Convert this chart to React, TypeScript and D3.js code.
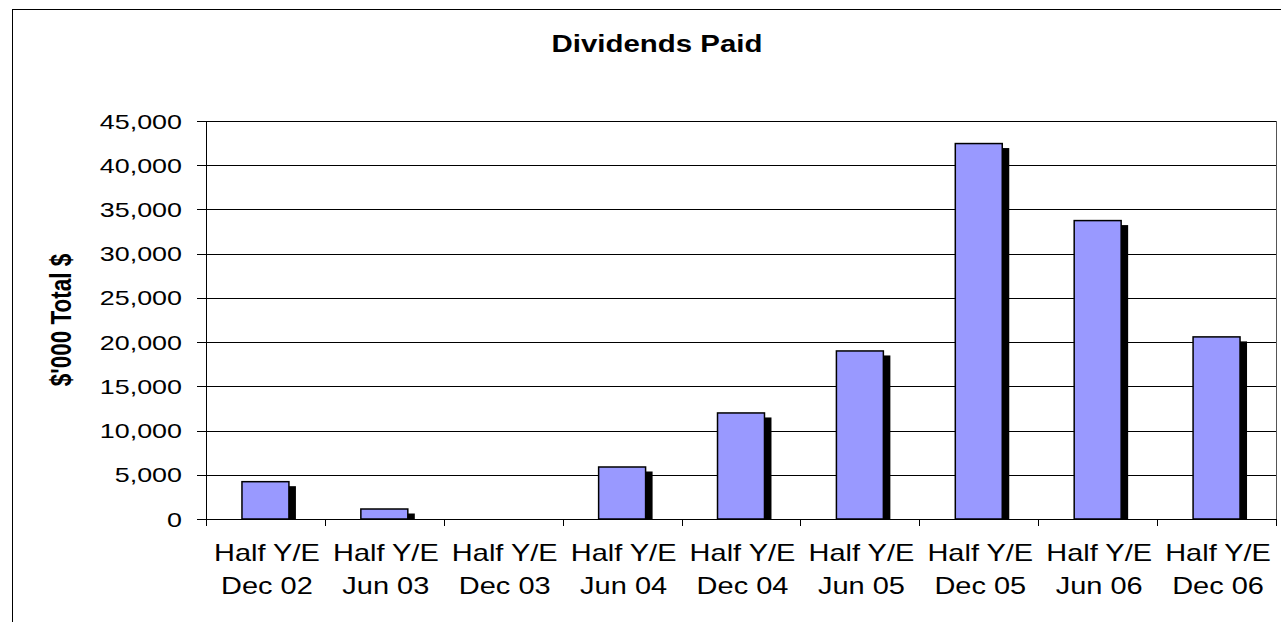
import * as d3 from 'd3'
import React from 'react'

const categories = ['Dec 02', 'Jun 03', 'Dec 03', 'Jun 04', 'Dec 04', 'Jun 05', 'Dec 05', 'Jun 06', 'Dec 06']
const dividends = [4220, 1130, 0, 5880, 11990, 19000, 42450, 33740, 20590]
const yTicks = [0, 5000, 10000, 15000, 20000, 25000, 30000, 35000, 40000, 45000]

const W = 1281
const H = 622
const plot = { left: 206, top: 121, right: 1276, bottom: 519 }
const FONT = 'Arial, "Liberation Sans", sans-serif'

// the original chart is stretched sideways, so text gets a horizontal scale
const Label = ({ x, y, sx, size, anchor = 'middle', bold = false, children }: any) => (
  <text
    transform={`translate(${x},${y}) scale(${sx},1)`}
    textAnchor={anchor}
    fontFamily={FONT}
    fontSize={size}
    fontWeight={bold ? 'bold' : 'normal'}
  >
    {children}
  </text>
)

export default function App() {
  const x = d3
    .scaleBand()
    .domain(categories)
    .range([plot.left, plot.right])
    .paddingInner(0)
  const y = d3.scaleLinear().domain([0, 45000]).range([plot.bottom, plot.top])
  const fmt = d3.format(',')
  const barW = x.bandwidth() * 0.395
  const shadowDx = 7
  const shadowDy = 4.5

  return (
    <svg width={W} height={H} style={{ position: 'absolute', left: 0, top: 0, background: '#fff' }}>
      <rect x={0} y={0} width={W} height={H} fill="#fff" />
      {/* outer chart border */}
      <rect x={12.5} y={9.5} width={W + 10} height={H + 10} fill="none" stroke="#000" strokeWidth={1} />

      <Label x={657} y={52} sx={1.28} size={23} bold>
        Dividends Paid
      </Label>

      {/* gridlines */}
      {yTicks.map(t => (
        <line key={t} x1={plot.left - 9} x2={plot.right} y1={Math.round(y(t)) + 0.5} y2={Math.round(y(t)) + 0.5} stroke="#000" strokeWidth={1} />
      ))}
      <line x1={plot.right + 0.5} x2={plot.right + 0.5} y1={plot.top} y2={plot.bottom} stroke="#555" strokeWidth={1} />

      {/* bars with shadows */}
      {dividends.map((v, i) => {
        const cx = x(categories[i])! + x.bandwidth() / 2
        const top = y(v)
        if (v <= 0) return null
        return (
          <g key={i}>
            <rect
              x={cx - barW / 2 + shadowDx}
              y={top + shadowDy}
              width={barW}
              height={Math.max(0, plot.bottom - top - shadowDy)}
              fill="#000"
            />
            <rect x={cx - barW / 2} y={top} width={barW} height={plot.bottom - top} fill="#9999FF" stroke="#000" strokeWidth={1.5} />
          </g>
        )
      })}

      {/* y axis */}
      <line x1={plot.left + 0.5} x2={plot.left + 0.5} y1={plot.top} y2={plot.bottom + 7} stroke="#000" strokeWidth={1} />
      {yTicks.map(t => (
        <Label key={t} x={182} y={y(t) + 7.5} sx={1.28} size={21} anchor="end">
          {fmt(t)}
        </Label>
      ))}
      <text
        transform={`translate(71,${(plot.top + plot.bottom) / 2}) scale(1.27,1) rotate(-90)`}
        textAnchor="middle"
        fontFamily={FONT}
        fontWeight="bold"
        fontSize={22.5}
      >
        $'000 Total $
      </text>

      {/* x axis */}
      <line x1={plot.left} x2={plot.right} y1={plot.bottom + 0.5} y2={plot.bottom + 0.5} stroke="#000" strokeWidth={1} />
      {categories.map((c, i) => {
        const bx = Math.round(x(c)! + x.bandwidth()) + 0.5
        return <line key={'t' + i} x1={bx} x2={bx} y1={plot.bottom} y2={plot.bottom + 7} stroke="#000" />
      })}
      {categories.map(c => {
        const cx = x(c)! + x.bandwidth() / 2 + 1.5
        return (
          <g key={c}>
            <Label x={cx} y={561} sx={1.26} size={23}>
              Half Y/E
            </Label>
            <Label x={cx} y={594} sx={1.26} size={23}>
              {c}
            </Label>
          </g>
        )
      })}
    </svg>
  )
}
